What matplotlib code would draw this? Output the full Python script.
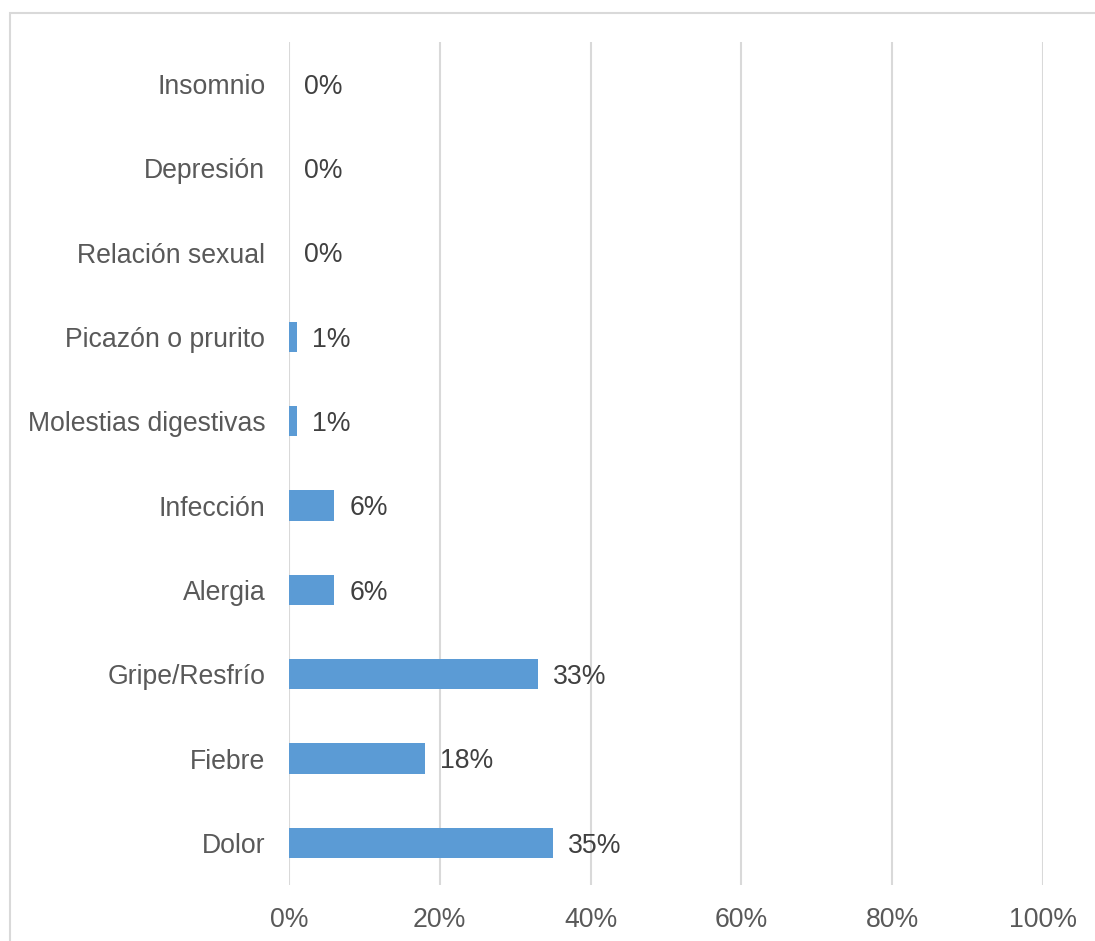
import matplotlib.pyplot as plt
from matplotlib.patches import Rectangle

plt.rcParams['font.family'] = ['Liberation Sans', 'DejaVu Sans']

categorias = ['Dolor', 'Fiebre', 'Gripe/Resfrío', 'Alergia', 'Infección',
              'Molestias digestivas', 'Picazón o prurito', 'Relación sexual',
              'Depresión', 'Insomnio']
valores = [35, 18, 33, 6, 6, 1, 1, 0, 0, 0]
ticks_x = [0, 20, 40, 60, 80, 100]
etiquetas_x = ['0%', '20%', '40%', '60%', '80%', '100%']

gris = '#595959'
fs = 19.2
fig = plt.figure(figsize=(10.95, 9.41), dpi=100)
ax = fig.add_axes([0.2639, 0.0595, 0.6886, 0.896])

pos = range(len(categorias))
ax.barh(pos, valores, height=0.36, color='#5B9BD5', zorder=3)
for p, v in zip(pos, valores):
    ax.annotate(f'{v}%', (v, p), xytext=(11, -2), textcoords='offset points',
                ha='left', va='center', fontsize=fs, color='#404040')

ax.set_xlim(0, 100)
ax.set_ylim(-0.5, len(categorias) - 0.5)
ax.set_yticks(list(pos))
ax.set_yticklabels(categorias)
ax.set_xticks(ticks_x)
ax.set_xticklabels(etiquetas_x)
ax.tick_params(axis='both', length=0, labelsize=fs, labelcolor=gris)
ax.tick_params(axis='y', pad=17)
ax.tick_params(axis='x', pad=16)
ax.grid(axis='x', color='#D9D9D9', linewidth=1.5, zorder=0)
for s in ax.spines.values():
    s.set_visible(False)

# marco del gráfico
fig.patches.append(Rectangle((10 / 1095, -0.1), 1.2, 1 - 13 / 941 + 0.1,
                             transform=fig.transFigure, fill=False,
                             edgecolor='#D9D9D9', linewidth=1.5))

fig.savefig('out.png', dpi=100)
